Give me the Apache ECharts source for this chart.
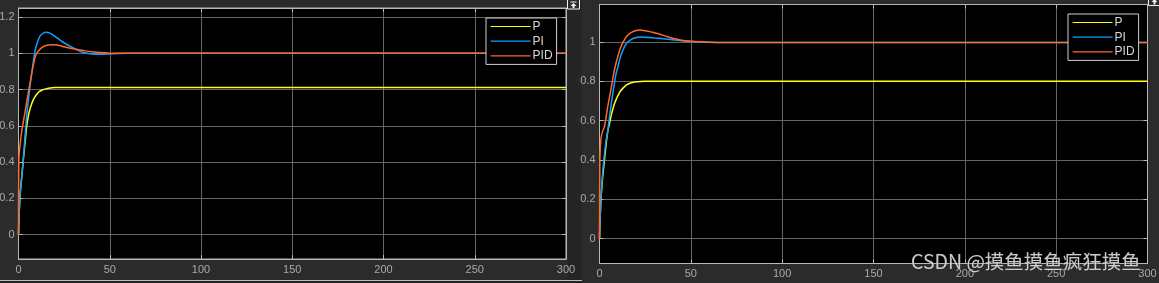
<!DOCTYPE html>
<html><head><meta charset="utf-8">
<script src="https://cdn.jsdelivr.net/npm/echarts@6/dist/echarts.min.js"></script>
<style>html,body{margin:0;padding:0;background:#2b2b2b;overflow:hidden}#c{width:1159px;height:283px;}</style>
</head><body><div id="c"></div>
<script>
// ---- data ----
const seriesNames = ['P', 'PI', 'PID'];
const timeL = [0,0.2,0.8,1.7,2.6,3.5,4.5,5.5,6.5,8,9,10,11.5,13,15,17.5,20,22.5,25,30,35,40,45,50,60,70,100,300];
const pL    = [0,0.07,0.21,0.31,0.41,0.50,0.60,0.66,0.70,0.742,0.76,0.775,0.79,0.798,0.804,0.809,0.811,0.812,0.812,0.812,0.812,0.812,0.812,0.812,0.812,0.812,0.812,0.812];
const piL   = [0,0.08,0.21,0.31,0.41,0.53,0.66,0.75,0.835,0.945,1.01,1.05,1.09,1.108,1.116,1.11,1.094,1.075,1.057,1.03,1.006,0.997,0.995,0.997,1.0,1.0,1.0,1.0];
const pidL  = [0,0.42,0.49,0.565,0.62,0.67,0.73,0.79,0.845,0.93,0.975,1.0,1.02,1.033,1.043,1.048,1.048,1.043,1.036,1.025,1.017,1.009,1.004,1.001,1.0,1.0,1.0,1.0];

const timeR = [0,0.2,0.8,1.7,2.6,3.5,4.5,5.5,6.5,8,9,10,11.5,13,15,17.5,20,22.5,25,30,35,40,45,50,60,70,100,300];
const pR    = [0,0.07,0.2,0.31,0.39,0.47,0.545,0.585,0.63,0.68,0.705,0.725,0.75,0.766,0.782,0.792,0.797,0.799,0.8,0.8,0.8,0.8,0.8,0.8,0.8,0.8,0.8,0.8];
const piR   = [0,0.07,0.2,0.33,0.42,0.49,0.545,0.62,0.69,0.78,0.835,0.87,0.925,0.962,0.995,1.013,1.022,1.025,1.024,1.02,1.016,1.011,1.006,1.002,0.998,0.997,0.997,0.997];
const pidR  = [0,0.4,0.51,0.545,0.565,0.61,0.67,0.72,0.77,0.85,0.89,0.925,0.97,1.0,1.03,1.048,1.058,1.06,1.056,1.046,1.033,1.018,1.008,1.003,0.998,0.997,0.997,0.997];

const xTicks  = [0, 50, 100, 150, 200, 250, 300];
const yTicksL = [0, 0.2, 0.4, 0.6, 0.8, 1, 1.2];
const yTicksR = [0, 0.2, 0.4, 0.6, 0.8, 1];
const yRangeL = [-0.134, 1.25];
const yRangeR = [-0.127, 1.19];
const watermark = 'CSDN @摸鱼摸鱼疯狂摸鱼';

// ---- styles ----
const colors = ['#ffff11', '#139fff', '#ff6929'];
const labelColor = '#aaaaaa';
const boxColor = '#b8b8b8';
const gridLineColor = '#666666';
const font = 'Liberation Sans, Arial, sans-serif';

const chart = echarts.init(document.getElementById('c'), null, {renderer: 'canvas'});

function fmt(v) { return String(+(+v).toFixed(2)); }

function makeAxes(g, yTicks, yRange) {
  const xMain = {
    type: 'value', gridIndex: g, min: xTicks[0], max: xTicks[xTicks.length - 1], interval: xTicks[1] - xTicks[0],
    axisLine: {show: true, onZero: false, lineStyle: {color: boxColor, width: 1}},
    axisTick: {show: true, inside: true, length: 4, lineStyle: {color: boxColor}},
    axisLabel: {color: labelColor, fontSize: 11, fontFamily: font, margin: 5},
    splitLine: {show: true, lineStyle: {color: gridLineColor, width: 1}}
  };
  const xTop = {
    type: 'value', gridIndex: g, position: 'top', min: xTicks[0], max: xTicks[xTicks.length - 1], interval: xTicks[1] - xTicks[0],
    axisLine: {show: true, onZero: false, lineStyle: {color: boxColor, width: 1}},
    axisTick: {show: true, inside: true, length: 4, lineStyle: {color: boxColor}},
    axisLabel: {show: false}, splitLine: {show: false}
  };
  const yMain = {
    type: 'value', gridIndex: g, min: yRange[0], max: yRange[1],
    axisLine: {show: true, onZero: false, lineStyle: {color: boxColor, width: 1}},
    axisTick: {show: true, inside: true, length: 4, lineStyle: {color: boxColor}, customValues: yTicks},
    axisLabel: {color: labelColor, fontSize: 11, fontFamily: font, margin: 4, customValues: yTicks, formatter: fmt},
    splitLine: {show: true, lineStyle: {color: gridLineColor, width: 1}}
  };
  const yRight = {
    type: 'value', gridIndex: g, position: 'right', min: yRange[0], max: yRange[1],
    axisLine: {show: true, onZero: false, lineStyle: {color: boxColor, width: 1}},
    axisTick: {show: true, inside: true, length: 4, lineStyle: {color: boxColor}, customValues: yTicks},
    axisLabel: {show: false, customValues: yTicks}, splitLine: {show: false}
  };
  return {x: [xMain, xTop], y: [yMain, yRight]};
}

const axL = makeAxes(0, yTicksL, yRangeL);
const axR = makeAxes(1, yTicksR, yRangeR);

function mk(name, t, v, xi, yi, ci) {
  return {
    name: name, type: 'line', xAxisIndex: xi, yAxisIndex: yi,
    data: t.map((tt, i) => [tt, v[i]]),
    symbol: 'none', showSymbol: false, smooth: 0.2,
    lineStyle: {color: colors[ci], width: 1.5}, itemStyle: {color: colors[ci]},
    animation: false, clip: true
  };
}

const legendBase = {
  orient: 'vertical', itemWidth: 40, itemHeight: 12, itemGap: 2.7,
  padding: [2.5, 4, 2.5, 4], backgroundColor: '#000', borderColor: '#d0d0d0', borderWidth: 1, borderRadius: 0,
  itemStyle: {opacity: 0, borderWidth: 0},
  lineStyle: {width: 1.2},
  textStyle: {color: '#d6d6d6', fontSize: 12, fontFamily: font, padding: [0, 0, 0, -3]},
  data: seriesNames, selectedMode: false
};

const option = {
  backgroundColor: '#2b2b2b',
  animation: false,
  grid: [
    {left: 18.5, top: 8, width: 547.5, height: 251, show: true, backgroundColor: '#000', borderColor: boxColor, borderWidth: 1, containLabel: false, outerBoundsMode: 'none'},
    {left: 599.5, top: 4.5, width: 548, height: 259, show: true, backgroundColor: '#000', borderColor: boxColor, borderWidth: 1, containLabel: false, outerBoundsMode: 'none'}
  ],
  xAxis: [axL.x[0], axL.x[1], axR.x[0], axR.x[1]],
  yAxis: [axL.y[0], axL.y[1], axR.y[0], axR.y[1]],
  legend: [
    Object.assign({}, legendBase, {left: 486, top: 18}),
    Object.assign({}, legendBase, {left: 1068, top: 14})
  ],
  series: [
    mk(seriesNames[0], timeL, pL, 0, 0, 0),
    mk(seriesNames[1], timeL, piL, 0, 0, 1),
    mk(seriesNames[2], timeL, pidL, 0, 0, 2),
    mk(seriesNames[0], timeR, pR, 2, 2, 0),
    mk(seriesNames[1], timeR, piR, 2, 2, 1),
    mk(seriesNames[2], timeR, pidR, 2, 2, 2)
  ],
  graphic: [
    {type: 'rect', shape: {x: 567, y: 0, width: 15, height: 283}, style: {fill: '#252525'}, z: -1},
    {type: 'rect', shape: {x: 0, y: 280, width: 582, height: 1.2}, style: {fill: '#bdbdbd'}, z: 1},
    {type: 'rect', shape: {x: 0, y: 281.2, width: 582, height: 2}, style: {fill: '#1e1e1e'}, z: 1},
    // scope icons
    {type: 'group', x: 567.5, y: 0, z: 10, children: [
      {type: 'rect', shape: {x: 0, y: -1, width: 12, height: 10}, style: {fill: '#2b2b2b', stroke: '#f0f0f0', lineWidth: 1}},
      {type: 'line', shape: {x1: 3, y1: 2, x2: 9, y2: 2}, style: {stroke: '#f0f0f0', lineWidth: 1}},
      {type: 'polygon', shape: {points: [[6, 3], [3, 6], [5, 6], [5, 8], [7, 8], [7, 6], [9, 6]]}, style: {fill: '#f0f0f0'}}
    ]},
    {type: 'group', x: 1148.5, y: 0, z: 10, children: [
      {type: 'rect', shape: {x: 0, y: -4, width: 12, height: 9.5}, style: {fill: '#2b2b2b', stroke: '#f0f0f0', lineWidth: 1}},
      {type: 'polygon', shape: {points: [[6, -1], [3, 2], [5, 2], [5, 4.5], [7, 4.5], [7, 2], [9, 2]]}, style: {fill: '#f0f0f0'}}
    ]},
    {type: 'text', x: 911, y: 262, z: 100, style: {text: watermark, fill: 'rgba(235,235,235,0.85)', font: '19.5px "Noto Sans CJK SC", sans-serif', verticalAlign: 'middle', stroke: 'rgba(40,40,40,0.5)', lineWidth: 1}}
  ]
};
chart.setOption(option);
</script>
</body></html>
